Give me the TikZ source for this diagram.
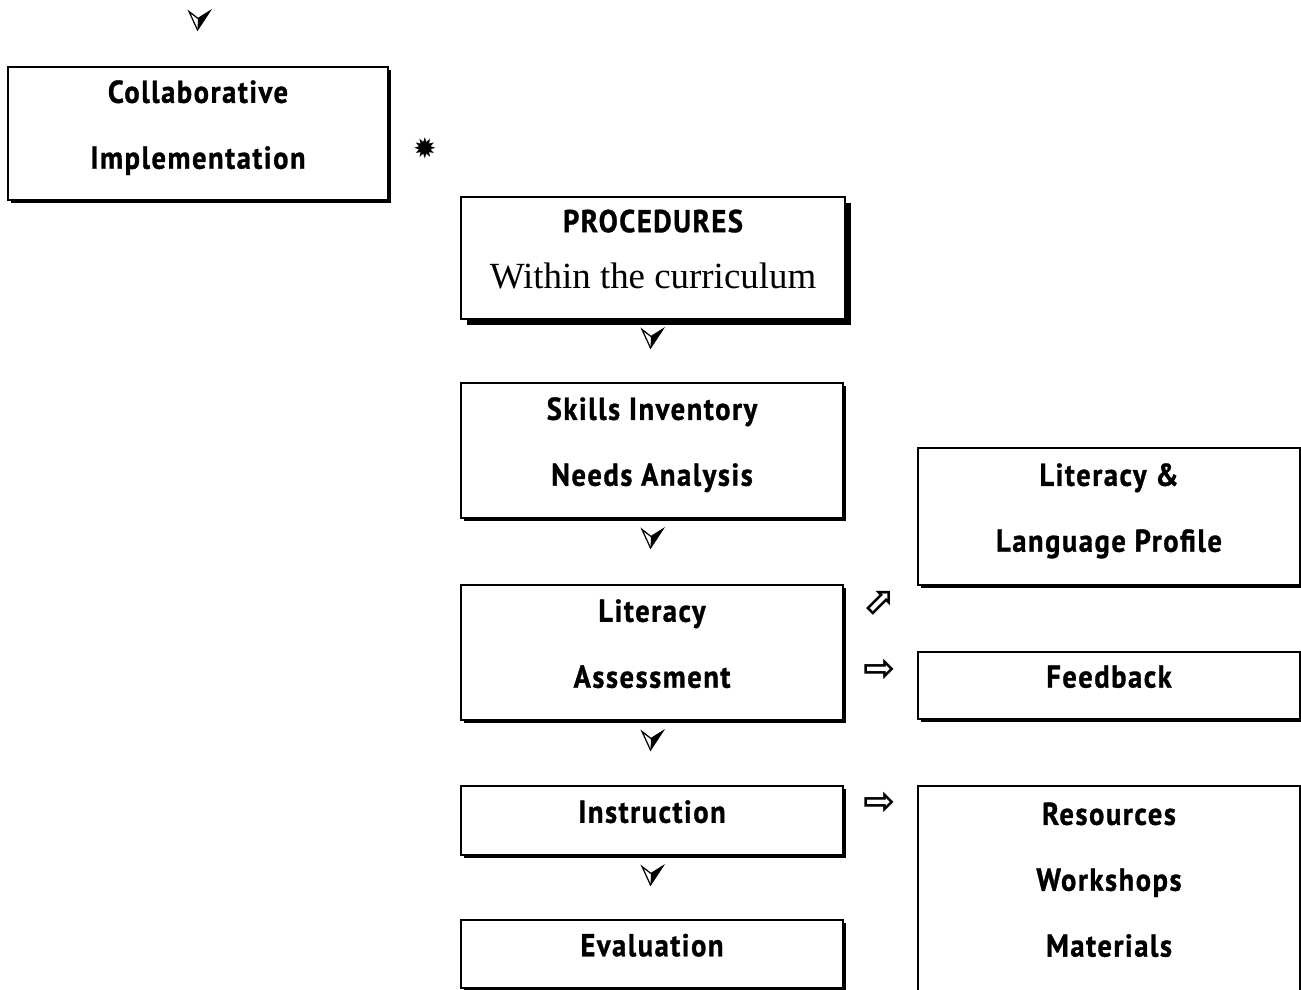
\documentclass[tikz,border=0pt]{standalone}
\usepackage{fontspec}
\setmainfont[FakeStretch=0.9, LetterSpace=5, BoldFeatures={FakeBold=1}]{PT Sans}
\newfontfamily\serifface{Liberation Serif}
\newfontfamily\symbolface{DejaVu Sans}
\usetikzlibrary{shadows}

\begin{document}
\begin{tikzpicture}[every node/.style = {align=center},
  box/.style = {draw, fill=white, line width=1.1pt, minimum width=7.64cm,
    inner sep=2pt, text depth=0.36cm,
    font=\bfseries\fontsize{18}{37.5}\selectfont,
    drop shadow={shadow xshift=#1, shadow yshift=-#1, fill=black, opacity=1}},
  box/.default = 1.6pt,
  glyph/.style = {font=\symbolface\bfseries\fontsize{22}{22}\selectfont, inner sep=0pt},
  dart/.pic = {
    \draw[line width=0.7pt, line join=miter, fill=white]
      (-0.2,0.17) -- (-0.02,0.03) -- (0.22,0.18) -- (-0.03,-0.2) -- cycle;
    \fill (-0.02,0.03) -- (0.22,0.18) -- (-0.03,-0.2) -- cycle;}]
\useasboundingbox (0,0) rectangle (26.02,-19.78);

% left column
\node[box, minimum width=7.6cm, minimum height=2.66cm] (collab) at (3.96,-2.67)
  {Collaborative\\Implementation};
\node[box=3.5pt, line width=1.6pt, minimum width=7.68cm, minimum height=2.44cm,
  font=\bfseries\fontsize{18}{32}\selectfont] (proc) at (13.06,-5.16)
  {PROCEDURES\\{\serifface\mdseries\fontsize{21}{24}\selectfont Within the curriculum}};
\node[box, minimum height=2.7cm] (skills) at (13.04,-9.01) {Skills Inventory\\Needs Analysis};
\node[box, minimum height=2.7cm] (assess) at (13.04,-13.05) {Literacy\\Assessment};
\node[box, minimum height=1.38cm] (instr) at (13.04,-16.41) {Instruction};
\node[box, minimum height=1.36cm] (eval) at (13.04,-19.08) {Evaluation};

% right column
\node[box, minimum height=2.74cm] (profile) at (22.18,-10.33) {Literacy \&\\Language Profile};
\node[box, minimum height=1.34cm] (feedback) at (22.18,-13.71) {Feedback};
\node[box, minimum height=4.1cm] (res) at (22.18,-17.77) {Resources\\Workshops\\Materials};

% arrow glyphs
\pic (top) at (3.98,-0.4) {dart};
\pic (d1) at (13.04,-6.76) {dart};
\pic (d2) at (13.04,-10.76) {dart};
\pic (d3) at (13.04,-14.8) {dart};
\pic (d4) at (13.04,-17.5) {dart};
\node[glyph, font=\symbolface\fontsize{16}{16}\selectfont] (star) at (8.5,-2.96) {✹};
\node[glyph, rotate=45] (toprofile) at (17.62,-12.04) {⇨};
\node[glyph] (tofeedback) at (17.6,-13.4) {⇨};
\node[glyph] (tores) at (17.6,-16.06) {⇨};
\end{tikzpicture}
\end{document}
